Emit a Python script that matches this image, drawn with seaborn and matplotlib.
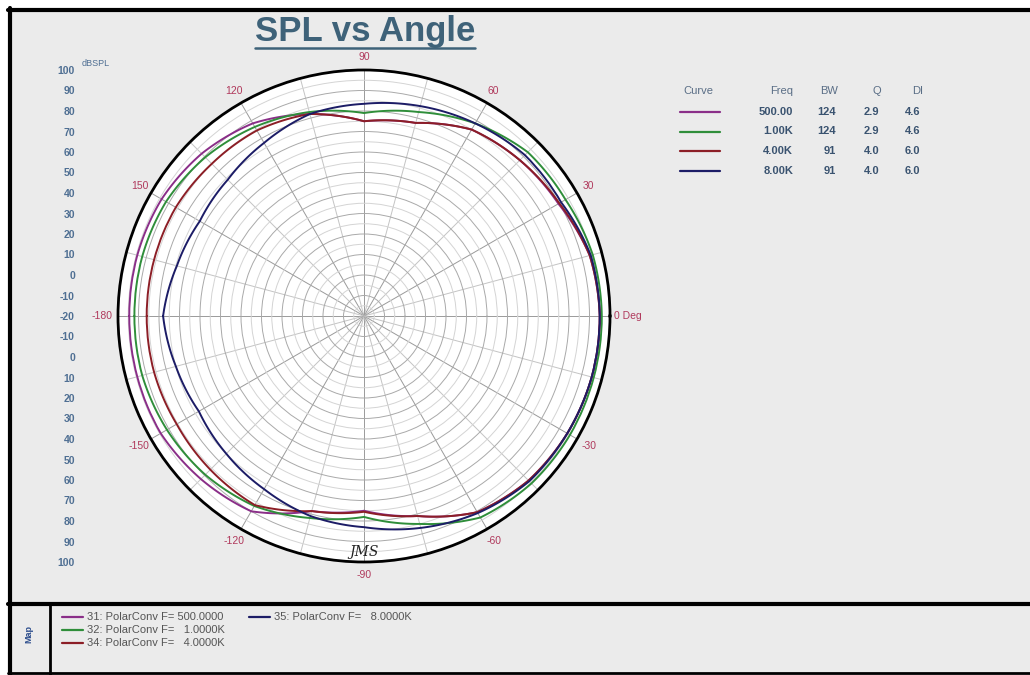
import numpy as np
import pandas as pd
import matplotlib
matplotlib.use('Agg')
import matplotlib.pyplot as plt
from matplotlib.lines import Line2D
from matplotlib.patches import Rectangle
import seaborn as sns

# Dados (dB SPL em função do ângulo)
angles = [-180, -165, -150, -135, -120, -105, -90, -75, -60, -45, -30, -15, 0,
          15, 30, 45, 60, 75, 90, 105, 120, 135, 150, 165, 180]
spl_500 = [94.5, 94.5, 94.5, 92.5, 90, 78.5, 75, 81, 90.5, 93.5, 94.5, 95, 95,
           94, 89.5, 87.5, 85, 77.5, 75, 82, 88.5, 92, 94, 94.5, 94.5]
spl_1k = [92, 92, 91, 89.5, 87, 82, 78, 85, 93.5, 95.5, 96, 96, 96,
          95.5, 93.5, 93, 88.5, 83, 79, 83, 86.5, 89.5, 91.5, 92, 92]
spl_4k = [86, 86, 85.5, 86, 86.5, 78.5, 75.5, 81, 90.5, 93.5, 94.5, 95, 95,
          94, 90, 87.5, 85, 77.5, 75, 82, 84.5, 85, 86, 86, 86]
spl_8k = [78, 75, 73, 75, 77.5, 81, 83, 87, 91, 94, 94.5, 95, 95,
          94.5, 91, 91, 88.5, 86, 83.5, 82, 77.5, 74, 72.5, 74.5, 78]

curve_freq = ['500.00', '1.00K', '4.00K', '8.00K']
curve_bw = ['124', '124', '91', '91']
curve_q = ['2.9', '2.9', '4.0', '4.0']
curve_di = ['4.6', '4.6', '6.0', '6.0']
map_labels = ['31: PolarConv F= 500.0000', '32: PolarConv F=   1.0000K',
              '34: PolarConv F=   4.0000K', '35: PolarConv F=   8.0000K']
colors = ['#8A2E88', '#2F8E3A', '#8C1E26', '#1C1C66']

theta_ticks = [0, 30, 60, 90, 120, 150, 180, -150, -120, -90, -60, -30]
theta_texts = ['0 Deg', '30', '60', '90', '120', '150', '-180',
               '-150', '-120', '-90', '-60', '-30']
scale_db = [100, 90, 80, 70, 60, 50, 40, 30, 20, 10, 0, -10, -20]

df = pd.DataFrame({
    'theta': np.deg2rad(angles * 4),
    'spl': spl_500 + spl_1k + spl_4k + spl_8k,
    'curve': [f for f in curve_freq for _ in angles],
})

sns.set_theme(style='white')
plt.rcParams['font.family'] = ['Liberation Sans', 'DejaVu Sans']

W, H = 1030, 675
fig = plt.figure(figsize=(W / 100, H / 100), dpi=100, facecolor='white')


def fx(x):
    return x / W


def fy(y):
    return 1 - y / H


# fundo cinza do painel
fig.patches.append(Rectangle((fx(9), 0), 1, fy(9), transform=fig.transFigure,
                             facecolor='#EBEBEB', edgecolor='none', zorder=-5))

cx, cy, R = 364, 316, 246
rect = [fx(cx - R), fy(cy + R), 2 * R / W, 2 * R / H]

# escala radial à esquerda
sax = fig.add_axes(rect)
sax.set_xlim(-120, 120)
sax.set_ylim(-120, 120)
yt = [v + 20 for v in scale_db] + [-(v + 20) for v in scale_db[::-1][1:]]
yl = [str(v) for v in scale_db] + [str(v) for v in scale_db[::-1][1:]]
sax.set_yticks(yt, yl)
sax.set_xticks([])
sax.tick_params(axis='y', length=0, pad=31, labelsize=7.5, labelcolor='#4F6F93')
for t in sax.get_yticklabels():
    t.set_fontweight('bold')
for s in sax.spines.values():
    s.set_visible(False)
sax.patch.set_alpha(0)

# gráfico polar
ax = fig.add_axes(rect, projection='polar')
ax.set_facecolor('white')
sns.lineplot(data=df, x='theta', y='spl', hue='curve', palette=colors,
             sort=False, estimator=None, lw=1.4, legend=False, ax=ax)
# curvas suaves entre os pontos (interpolação em coordenadas polares)
for ln in ax.lines:
    ln.get_path()._interpolation_steps = 30
    ln.set_data(ln.get_xdata(), ln.get_ydata())
ax.set_ylim(-20, 100)
ax.set_xlabel('')
ax.set_ylabel('')
ax.grid(True)
rt = np.arange(-15, 100, 5)
ax.set_rgrids(rt, [''] * len(rt))
tt = np.arange(0, 360, 15)
ax.set_thetagrids(tt, [''] * len(tt))
for v, gl in zip(rt, ax.yaxis.get_gridlines()):
    gl.set_color('#A9A9A9' if v % 10 == 0 else '#D4D4D4')
    gl.set_linewidth(0.7)
for v, gl in zip(tt, ax.xaxis.get_gridlines()):
    gl.set_color('#9A9A9A' if v % 30 == 0 else '#C4C4C4')
    gl.set_linewidth(0.7)
ax.spines['polar'].set_color('black')
ax.spines['polar'].set_linewidth(2)

for a, lab in zip(theta_ticks, theta_texts):
    if a == 0:
        ax.text(0, 102, lab, ha='left', va='center', fontsize=7.5, color='#B0395C')
    elif a == 180:
        ax.text(np.pi, 102.5, lab, ha='right', va='center', fontsize=7.5, color='#B0395C')
    else:
        ax.text(np.deg2rad(a), 106.5, lab, ha='center', va='center',
                fontsize=7.5, color='#B0395C')

ax.text(-np.pi / 2, 95, 'JMS', ha='center', va='center', fontsize=10,
        style='italic', family='DejaVu Serif', color='#222222')

fig.text(fx(96), fy(64), 'dBSPL', fontsize=6.5, color='#4F6F93', ha='center', va='center')

# título sublinhado
title = fig.text(fx(365), fy(31), 'SPL vs Angle', fontsize=25, fontweight='bold',
                 color='#3E6279', ha='center', va='center')
fig.canvas.draw()
bb = title.get_window_extent()
fig.add_artist(Line2D([bb.x0 / W, bb.x1 / W], [fy(48), fy(48)], color='#3E6279', lw=1.8))

# tabela de curvas
hc = '#5A6E86'
vc = '#3A5370'
fig.text(fx(698), fy(91), 'Curve', fontsize=8, color=hc, ha='center', va='center')
fig.text(fx(793), fy(91), 'Freq', fontsize=8, color=hc, ha='right', va='center')
fig.text(fx(829), fy(91), 'BW', fontsize=8, color=hc, ha='center', va='center')
fig.text(fx(877), fy(91), 'Q', fontsize=8, color=hc, ha='center', va='center')
fig.text(fx(918), fy(91), 'DI', fontsize=8, color=hc, ha='center', va='center')
for i in range(4):
    y = 112 + i * 19.5
    fig.add_artist(Line2D([fx(680), fx(720)], [fy(y), fy(y)], color=colors[i], lw=1.6))
    fig.text(fx(793), fy(y), curve_freq[i], fontsize=8, color=vc, fontweight='bold', ha='right', va='center')
    fig.text(fx(836), fy(y), curve_bw[i], fontsize=8, color=vc, fontweight='bold', ha='right', va='center')
    fig.text(fx(879), fy(y), curve_q[i], fontsize=8, color=vc, fontweight='bold', ha='right', va='center')
    fig.text(fx(920), fy(y), curve_di[i], fontsize=8, color=vc, fontweight='bold', ha='right', va='center')

# molduras
for xs, ys, lw in [([8, 1030], [10, 10], 3), ([10, 10], [8, 675], 3),
                   ([8, 1030], [604, 604], 3), ([50, 50], [604, 675], 2),
                   ([8, 1030], [673, 673], 2)]:
    fig.add_artist(Line2D([fx(x) for x in xs], [fy(y) for y in ys], color='black', lw=lw))

# painel "Map"
fig.text(fx(29), fy(634), 'Map', fontsize=6.5, fontweight='bold', color='#2B4C8C',
         rotation=90, ha='center', va='center')
map_pos = [(62, 617), (62, 630), (62, 643), (249, 617)]
for (x, y), lab, c in zip(map_pos, map_labels, colors):
    fig.add_artist(Line2D([fx(x), fx(x + 21)], [fy(y), fy(y)], color=c, lw=1.6))
    fig.text(fx(x + 25), fy(y), lab, fontsize=8, color='#555555', ha='left', va='center')

plt.savefig('out.png', dpi=100, facecolor=fig.get_facecolor())
